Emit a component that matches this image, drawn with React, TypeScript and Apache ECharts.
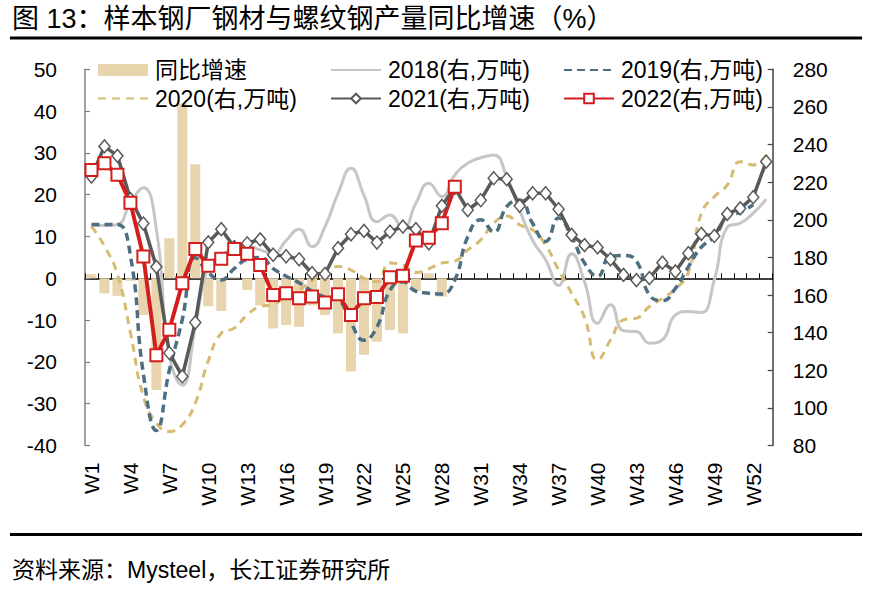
import React, { useEffect, useRef } from 'react';
import * as echarts from 'echarts';

const FONT = "'Liberation Sans', 'Noto Sans CJK SC', sans-serif";

const weeks = Array.from({ length: 53 }, (_, i) => `W${i + 1}`);

// left axis (%)
const leftMin = -40;
const leftMax = 50;
const leftStep = 10;
// right axis (万吨)
const rightMin = 80;
const rightMax = 280;
const rightStep = 20;

const yoy = [1.0, -3.6, -4.2, -0.6, -8.8, -26.7, 9.6, 41.8, 27.3, -6.7, -7.8, 0.3, -2.8, -6.5, -12.0,
  -11.2, -11.6, -6.5, -8.8, -13.2, -22.3, -18.3, -15.2, -12.4, -13.2, -3.0, 1.2, -4.4, 0.2];

const y2018 = [197, 197, 197.5, 209, 217, 195, 128, 112, 143, 175, 181, 185, 186, 184, 182, 189, 195,
  185.7, 196.4, 214, 227.4, 213, 199, 202.6, 195.5, 208.8, 219.4, 212.3, 223.8, 230, 233, 234.5, 223,
  205, 189, 178.7, 165, 182, 167, 145, 154.8, 141, 140.6, 134.4, 136.2, 149.4, 151.2, 150.7, 168, 196,
  198.2, 203.5, 211];

const y2019 = [197.5, 197.5, 197.5, 181, 118, 88, 120, 147, 180, 172, 168, 174, 179, 180, 174, 170,
  166.5, 162, 159, 157.5, 145, 136, 143, 162.5, 167, 162, 161, 160.5, 168, 191, 200, 193.5, 207, 210.5,
  198, 188.5, 201, 191, 177, 170, 180.5, 181, 178, 160, 157, 163.5, 175, 185.5, 191, 201.5, 204, 208];

const y2020 = [196.5, 186, 171, 140, 106, 92, 87.4, 91, 102.5, 125, 139.7, 142.4, 149.4, 153.9, 155,
  159.2, 162.7, 168, 173.3, 175.1, 173.3, 168.9, 167.1, 177, 176, 172, 174, 177, 178, 184, 189.3,
  198.2, 202, 197.3, 194.6, 186.6, 173.3, 161, 148, 125.5, 136.1, 146.8, 147.7, 153.9, 158.3, 163.1,
  172, 203.5, 212.3, 218.5, 230.9, 229.1, 234.5];

const y2021 = [223, 239, 234, 211, 198, 175, 129.2, 116.7, 145.4, 188, 195, 185.5, 187.5, 189.6, 181.4,
  180.6, 179, 171.6, 171.2, 184.9, 192.3, 194.1, 187.9, 193.7, 196.4, 195, 187.5, 207.4, 217, 205.2,
  210.4, 222.1, 221.6, 207.4, 214.1, 214.1, 205.6, 192, 186.5, 185.3, 179, 170.7, 167.9, 169, 177.2,
  172.5, 182.2, 192.5, 191.4, 203.1, 206.1, 212, 230.9];

const y2022 = [226.5, 230, 224, 209, 180.5, 128, 141.5, 166.3, 184.5, 175.5, 179.3, 184.5, 182, 176, 160,
  161, 158.3, 159.2, 156, 160.4, 149.4, 158.3, 159, 169.4, 170.2, 189, 190.5, 198.2, 217.6];

const N_BAR = '同比增速';
const N18 = '2018(右,万吨)';
const N19 = '2019(右,万吨)';
const N20 = '2020(右,万吨)';
const N21 = '2021(右,万吨)';
const N22 = '2022(右,万吨)';

const TITLE = '图 13：样本钢厂钢材与螺纹钢产量同比增速（%）';
const SOURCE = '资料来源：Mysteel，长江证券研究所';

const C_BAR = '#e8d5ae';
const C18 = '#c6c6c6';
const C19 = '#4e6e82';
const C20 = '#d7bb72';
const C21 = '#595959';
const C22 = '#d41e1e';

export default function App() {
  const ref = useRef<HTMLDivElement>(null);
  useEffect(() => {
    if (!ref.current) return;
    const chart = echarts.init(ref.current, undefined, { renderer: 'svg' });
    const legendBase: any = {
      orient: 'vertical',
      itemWidth: 50,
      itemHeight: 12,
      itemGap: 5.5,
      padding: 0,
      top: 58.5,
      textStyle: { fontSize: 23, color: '#000', fontFamily: FONT, padding: [0, 0, 0, 2] },
    };
    const noSym = { opacity: 0 };
    const option: any = {
      animation: false,
      textStyle: { fontFamily: FONT },
      grid: { left: 85, right: 99.3, top: 69.3, bottom: 149.5, containLabel: false },
      legend: [
        { ...legendBase, left: 97, data: [{ name: N_BAR, icon: 'rect' }, { name: N20, itemStyle: noSym }] },
        { ...legendBase, left: 330, data: [{ name: N18, itemStyle: noSym }, N21] },
        { ...legendBase, left: 563, data: [{ name: N19, itemStyle: noSym }, N22] },
      ],
      xAxis: [
        {
          type: 'category', data: weeks, position: 'bottom', boundaryGap: true,
          axisLine: { show: false, onZero: false }, axisTick: { show: false },
          axisLabel: { interval: 2, rotate: 90, margin: 17, fontSize: 21, color: '#000', fontFamily: FONT },
          splitLine: { show: false },
        },
        {
          type: 'category', data: weeks, position: 'bottom', boundaryGap: true,
          axisLine: { show: true, onZero: true, onZeroAxisIndex: 0, lineStyle: { color: '#000', width: 1.5 } },
          axisTick: { show: true, inside: true, length: 5, interval: 0, lineStyle: { color: '#000', width: 1 } },
          axisLabel: { show: false }, splitLine: { show: false },
        },
      ],
      yAxis: [
        {
          type: 'value', min: leftMin, max: leftMax, interval: leftStep, position: 'left',
          axisLine: { show: true, lineStyle: { color: '#808080', width: 1.5 } },
          axisTick: { show: true, inside: true, length: 5, lineStyle: { color: '#808080', width: 1.2 } },
          axisLabel: { margin: 28, fontSize: 21, color: '#000', fontFamily: FONT },
          splitLine: { show: false },
        },
        {
          type: 'value', min: rightMin, max: rightMax, interval: rightStep, position: 'right', alignTicks: false,
          axisLine: { show: true, lineStyle: { color: '#404040', width: 1.5 } },
          axisTick: { show: true, inside: true, length: 5, lineStyle: { color: '#404040', width: 1.2 } },
          axisLabel: { margin: 20, fontSize: 21, color: '#000', fontFamily: FONT },
          splitLine: { show: false },
        },
      ],
      series: [
        { name: N_BAR, type: 'bar', xAxisIndex: 0, yAxisIndex: 0, data: yoy, barWidth: 10, itemStyle: { color: C_BAR } },
        {
          name: N18, type: 'line', xAxisIndex: 0, yAxisIndex: 1, data: y2018, smooth: 0.5, symbol: 'none',
          lineStyle: { color: C18, width: 3 }, itemStyle: { color: C18 },
        },
        {
          name: N20, type: 'line', xAxisIndex: 0, yAxisIndex: 1, data: y2020, smooth: 0.5, symbol: 'none',
          lineStyle: { color: C20, width: 3, type: [8, 6] }, itemStyle: { color: C20 },
        },
        {
          name: N19, type: 'line', xAxisIndex: 0, yAxisIndex: 1, data: y2019, smooth: 0.5, symbol: 'none',
          lineStyle: { color: C19, width: 3.5, type: [8, 5] }, itemStyle: { color: C19 },
        },
        {
          name: N21, type: 'line', xAxisIndex: 0, yAxisIndex: 1, data: y2021, symbol: 'diamond', symbolSize: [11, 13],
          showAllSymbol: true,
          lineStyle: { color: C21, width: 3.5 }, itemStyle: { color: '#fff', borderColor: C21, borderWidth: 1.5 },
        },
        {
          name: N22, type: 'line', xAxisIndex: 0, yAxisIndex: 1, data: y2022, symbol: 'rect', symbolSize: 12,
          showAllSymbol: true,
          lineStyle: { color: C22, width: 4 }, itemStyle: { color: '#fff', borderColor: C22, borderWidth: 2 },
        },
      ],
      graphic: [
        { type: 'text', left: 12, top: 5, style: { text: TITLE, fontSize: 27, fontFamily: FONT, fill: '#000' } },
        { type: 'rect', shape: { x: 10, y: 36.5, width: 852, height: 3 }, style: { fill: '#000' } },
        { type: 'rect', shape: { x: 10, y: 533, width: 852, height: 3 }, style: { fill: '#000' } },
        { type: 'text', left: 12, top: 558, style: { text: SOURCE, fontSize: 23, fontFamily: FONT, fill: '#000' } },
      ],
    };
    chart.setOption(option);
    return () => chart.dispose();
  }, []);
  return <div ref={ref} style={{ position: 'absolute', left: 0, top: 0, width: 872, height: 595, background: '#fff' }} />;
}
